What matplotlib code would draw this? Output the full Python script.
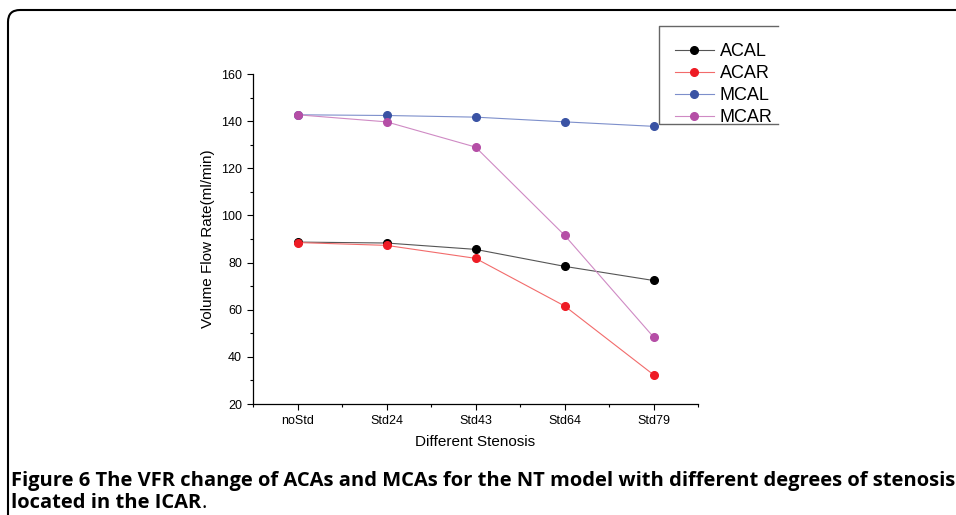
import matplotlib
matplotlib.use('Agg')
import matplotlib.pyplot as plt
from matplotlib.patches import FancyBboxPatch
from matplotlib.lines import Line2D
from matplotlib import font_manager

# data
stenosis = ['noStd', 'Std24', 'Std43', 'Std64', 'Std79']
acal = [88.7, 88.3, 85.6, 78.4, 72.4]
acar = [88.5, 87.3, 81.8, 61.6, 32.4]
mcal = [142.7, 142.4, 141.7, 139.7, 137.8]
mcar = [142.7, 139.7, 129.0, 91.6, 48.4]

series = [('ACAL', acal, '#000000', '#555555'),
          ('ACAR', acar, '#ee1c25', '#f26b6b'),
          ('MCAL', mcal, '#3a53a4', '#7d8fcb'),
          ('MCAR', mcar, '#b54ea6', '#cf8ac4')]

plt.rcParams['font.family'] = ['Liberation Sans', 'DejaVu Sans']
plt.rcParams['xtick.direction'] = 'out'
plt.rcParams['ytick.direction'] = 'out'

fig = plt.figure(figsize=(9.56, 5.15), dpi=100)
ax = fig.add_axes([0.2647, 0.2155, 0.4655, 0.6408])

x = list(range(len(stenosis)))
handles = []
for name, vals, mc, lc in series:
    ln, = ax.plot(x, vals, color=lc, lw=0.8, marker='o', markersize=5.5,
                  markerfacecolor=mc, markeredgecolor=mc, label=name)
    handles.append(ln)

ax.set_xlim(-0.5, 4.5)
ax.set_ylim(20, 160)
ax.set_xticks(x)
ax.set_xticklabels(stenosis)
ax.set_xticks([-0.5, 0.5, 1.5, 2.5, 3.5, 4.5], minor=True)
ax.set_yticks(range(20, 161, 20))
ax.set_yticks(range(30, 160, 20), minor=True)
ax.tick_params(which='major', length=4, width=0.8, labelsize=9, pad=4)
ax.tick_params(which='minor', length=2.5, width=0.8)
ax.spines['top'].set_visible(False)
ax.spines['right'].set_visible(False)
for s in ['left', 'bottom']:
    ax.spines[s].set_linewidth(0.9)
ax.set_xlabel('Different Stenosis', fontsize=11, labelpad=6)
ax.set_ylabel('Volume Flow Rate(ml/min)', fontsize=11, labelpad=4)

W, H = 956, 515
leg = fig.legend(handles=handles, loc='upper left', bbox_to_anchor=(675 / W, 1 - 43 / H),
                 frameon=False, fontsize=13, handlelength=2.15, handletextpad=0.33,
                 labelspacing=0.28, borderpad=0, borderaxespad=0)

# legend box, cut off on the right
fig.add_artist(Line2D([778 / W, 659 / W, 659 / W, 778 / W],
                      [1 - 26 / H, 1 - 26 / H, 1 - 124 / H, 1 - 124 / H],
                      transform=fig.transFigure, color='#666666', lw=1.0))

# rounded outer frame
frame = FancyBboxPatch((8, -40), 1100, 515 - 10 + 40, boxstyle='round,pad=0,rounding_size=12',
                       transform=None, fill=False, edgecolor='black', lw=1.5)
fig.add_artist(frame)

# caption: narrow font if available
names = {f.name for f in font_manager.fontManager.ttflist}
cap_family = ['Liberation Sans Narrow', 'DejaVu Sans'] if 'Liberation Sans Narrow' in names \
    else ['Open Sans', 'DejaVu Sans']
line1 = 'Figure 6 The VFR change of ACAs and MCAs for the NT model with different degrees of stenosis'
t1 = fig.text(11 / W, 1 - 486 / H, line1, fontsize=13, fontweight='bold',
              family=cap_family, va='baseline')
fig.canvas.draw()
w = t1.get_window_extent().width
fs = 13 * 936 / w
t1.set_fontsize(fs)
t2 = fig.text(11 / W, 1 - 508 / H, 'located in the ICAR', fontsize=fs, fontweight='bold',
              family=cap_family, va='baseline')
fig.canvas.draw()
bb = t2.get_window_extent()
fig.text(bb.x1 / W, 1 - 508 / H, '.', fontsize=fs, family=cap_family, va='baseline')

fig.savefig('out.png', dpi=100)
